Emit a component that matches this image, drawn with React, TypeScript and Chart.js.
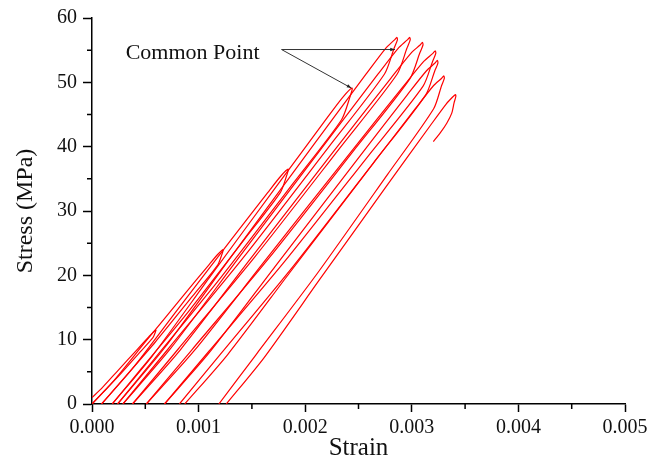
import React, { useEffect, useRef } from 'react';
import { Chart, registerables } from 'chart.js';

Chart.register(...registerables);

// Strain (-), Stress (MPa): each cycle = reloading branch then unloading branch
const cycle1: [number, number][] = [
  [0, 1.0], [0.000099, 2.58], [0.000243, 5.2], [0.000417, 8.35], [0.000534, 10.45], [0.000576, 11.19], [0.0006, 11.5],
  [0.000594, 11.16], [0.000573, 10.35], [0.00045, 8.05], [0.000264, 4.6], [0.000099, 1.73], [0, 0],
];
const cycle2: [number, number][] = [
  [0, 0], [0.000203, 3.6], [0.000498, 9.6], [0.000855, 16.8], [0.001095, 21.6], [0.001181, 23.28], [0.00123, 24.0],
  [0.001219, 23.28], [0.001179, 21.6], [0.000945, 16.8], [0.000592, 9.6], [0.000278, 3.6], [0.00009, 0],
];
const cycle3: [number, number][] = [
  [0.00009, 0], [0.000379, 5.48], [0.000799, 14.6], [0.001306, 25.55], [0.001648, 32.85], [0.00177, 35.4], [0.00184, 36.5],
  [0.001824, 35.4], [0.001766, 32.85], [0.001428, 25.55], [0.000916, 14.6], [0.000462, 5.48], [0.00019, 0],
];
const cycle4: [number, number][] = [
  [0.00019, 0], [0.000561, 7.37], [0.001101, 19.64], [0.001754, 34.37], [0.002193, 44.19], [0.00235, 47.63], [0.00244, 49.1],
  [0.002418, 47.63], [0.002341, 44.19], [0.00189, 34.37], [0.001208, 19.64], [0.000603, 7.37], [0.00024, 0],
];
const cycle5: [number, number][] = [
  [0.00024, 0], [0.000672, 8.55], [0.001301, 22.8], [0.002061, 39.9], [0.002572, 51.3], [0.002755, 55.29], [0.002838, 56.6], [0.00286, 57.0],
  [0.002865, 56.6], [0.002834, 55.29], [0.002744, 51.3], [0.002218, 39.9], [0.001421, 22.8], [0.000714, 8.55], [0.00029, 0],
];
const cycle6: [number, number][] = [
  [0.00029, 0], [0.000734, 8.55], [0.001379, 22.8], [0.00216, 39.9], [0.002684, 51.3], [0.002872, 55.29], [0.002958, 56.6], [0.00298, 57.0],
  [0.002985, 56.6], [0.002954, 55.29], [0.002863, 51.3], [0.00233, 39.9], [0.001524, 22.8], [0.000809, 8.55], [0.00038, 0],
];
const cycle7: [number, number][] = [
  [0.00038, 0], [0.000829, 8.43], [0.001482, 22.48], [0.00227, 39.34], [0.002801, 50.58], [0.002991, 54.51], [0.003078, 55.8], [0.0031, 56.2],
  [0.003105, 55.8], [0.003074, 54.51], [0.002983, 50.58], [0.002453, 39.34], [0.00165, 22.48], [0.000937, 8.43], [0.00051, 0],
];
const cycle8: [number, number][] = [
  [0.00051, 0], [0.000957, 8.24], [0.001608, 21.96], [0.002393, 38.43], [0.002922, 49.41], [0.003112, 53.25], [0.003198, 54.5], [0.00322, 54.9],
  [0.003225, 54.5], [0.003195, 53.25], [0.003106, 49.41], [0.002585, 38.43], [0.001798, 21.96], [0.001099, 8.24], [0.00068, 0],
];
const cycle9: [number, number][] = [
  [0.00068, 0], [0.001102, 8.01], [0.001717, 21.36], [0.002459, 37.38], [0.002958, 48.06], [0.003138, 51.8], [0.003218, 53.0], [0.00324, 53.4],
  [0.003245, 53.0], [0.003216, 51.8], [0.003131, 48.06], [0.002635, 37.38], [0.001885, 21.36], [0.001219, 8.01], [0.00082, 0],
];
const cycle10: [number, number][] = [
  [0.00087, 0], [0.001271, 7.65], [0.001854, 20.4], [0.002559, 35.7], [0.003033, 45.9], [0.003203, 49.47], [0.003278, 50.6], [0.0033, 51.0],
  [0.003305, 50.6], [0.003279, 49.47], [0.003205, 45.9], [0.002773, 35.7], [0.002118, 20.4], [0.001538, 7.65], [0.00119, 0],
];
const cycle11: [number, number][] = [
  [0.00126, 0], [0.001615, 7.22], [0.002131, 19.24], [0.002754, 33.67], [0.003174, 43.29], [0.003324, 46.66], [0.003388, 47.8], [0.00341, 48.1],
  [0.003413, 47.8], [0.003396, 46.77], [0.003375, 45.21], [0.003328, 43.65], [0.003265, 42.1], [0.003202, 40.8],
];

const cycles = [cycle1, cycle2, cycle3, cycle4, cycle5, cycle6, cycle7, cycle8, cycle9, cycle10, cycle11];

const minorStrainTicks = [0.0005, 0.0015, 0.0025, 0.0035, 0.0045];
const minorStressTicks = [5, 15, 25, 35, 45, 55];

const annotationText = 'Common Point';
const annotationTextAt: [number, number] = [0.000316, 53.56];
const leaderStart: [number, number] = [0.001778, 55.1];
const leaderEnds: [number, number][] = [[0.002842, 55.1], [0.002434, 49.1]];

const FONT = "'Liberation Serif', 'Times New Roman', serif";

const extrasPlugin = {
  id: 'extras',
  afterDraw(chart: any) {
    const { ctx, scales, chartArea } = chart;
    const xs = scales.x;
    const ys = scales.y;
    ctx.save();
    ctx.strokeStyle = '#000';
    ctx.lineWidth = 1.5;
    ctx.beginPath();
    for (const v of minorStrainTicks) {
      const px = xs.getPixelForValue(v);
      ctx.moveTo(px, chartArea.bottom);
      ctx.lineTo(px, chartArea.bottom + 5);
    }
    for (const v of minorStressTicks) {
      const py = ys.getPixelForValue(v);
      ctx.moveTo(chartArea.left, py);
      ctx.lineTo(chartArea.left - 5, py);
    }
    ctx.stroke();

    // annotation
    ctx.font = `22px ${FONT}`;
    ctx.fillStyle = '#111';
    ctx.textAlign = 'left';
    ctx.textBaseline = 'alphabetic';
    ctx.fillText(annotationText, xs.getPixelForValue(annotationTextAt[0]), ys.getPixelForValue(annotationTextAt[1]));

    const sx = xs.getPixelForValue(leaderStart[0]);
    const sy = ys.getPixelForValue(leaderStart[1]);
    ctx.strokeStyle = '#333';
    ctx.fillStyle = '#222';
    ctx.lineWidth = 1;
    for (const e of leaderEnds) {
      const ex = xs.getPixelForValue(e[0]);
      const ey = ys.getPixelForValue(e[1]);
      ctx.beginPath();
      ctx.moveTo(sx, sy);
      ctx.lineTo(ex, ey);
      ctx.stroke();
      const ang = Math.atan2(ey - sy, ex - sx);
      const L = 5;
      ctx.beginPath();
      ctx.moveTo(ex, ey);
      ctx.lineTo(ex - L * Math.cos(ang - 0.35), ey - L * Math.sin(ang - 0.35));
      ctx.lineTo(ex - L * Math.cos(ang + 0.35), ey - L * Math.sin(ang + 0.35));
      ctx.closePath();
      ctx.fill();
    }
    ctx.restore();
  },
};

export default function App() {
  const ref = useRef<HTMLCanvasElement | null>(null);
  useEffect(() => {
    if (!ref.current) return;
    const chart = new Chart(ref.current, {
      type: 'scatter',
      data: {
        datasets: cycles.map((c, i) => ({
          label: `cycle ${i + 1}`,
          data: c.map(([x, y]) => ({ x, y })),
          showLine: true,
          borderColor: '#ff0000',
          backgroundColor: '#ff0000',
          borderWidth: 1.2,
          pointRadius: 0,
          tension: 0.25,
          fill: false,
        })),
      },
      options: {
        animation: false,
        responsive: false,
        devicePixelRatio: 1,
        layout: { padding: { top: 18, right: 38, bottom: 0, left: 0 } },
        plugins: { legend: { display: false }, tooltip: { enabled: false } },
        font: { family: FONT },
        scales: {
          x: {
            type: 'linear',
            min: 0,
            max: 0.005,
            ticks: {
              stepSize: 0.001,
              color: '#111',
              font: { family: FONT, size: 20 },
              padding: 4,
              maxRotation: 0,
              autoSkip: false,
              callback: (v: any) => Number(v).toFixed(3),
            },
            grid: { drawOnChartArea: false, drawTicks: true, tickLength: 8, tickColor: '#000', tickWidth: 1.5 },
            border: { display: true, color: '#000', width: 1.5 },
            title: { display: true, text: 'Strain', color: '#111', font: { family: FONT, size: 25 }, padding: { top: 0, bottom: 3 } },
            afterFit: (s: any) => { s.height = 62; },
          },
          y: {
            type: 'linear',
            min: 0,
            max: 60,
            ticks: {
              stepSize: 10,
              color: '#111',
              font: { family: FONT, size: 20 },
              padding: 6,
            },
            grid: { drawOnChartArea: false, drawTicks: true, tickLength: 9, tickColor: '#000', tickWidth: 1.5 },
            border: { display: true, color: '#000', width: 1.5 },
            title: { display: true, text: 'Stress (MPa)', color: '#111', font: { family: FONT, size: 24 }, padding: { top: 11, bottom: 0 } },
            afterFit: (s: any) => { s.width = 92; },
          },
        },
      },
      plugins: [extrasPlugin],
    } as any);
    return () => chart.destroy();
  }, []);
  return (
    <div style={{ position: 'fixed', left: 0, top: 0, width: 663, height: 466, background: '#fff' }}>
      <canvas ref={ref} width={663} height={466} style={{ display: 'block', width: 663, height: 466 }} />
    </div>
  );
}
